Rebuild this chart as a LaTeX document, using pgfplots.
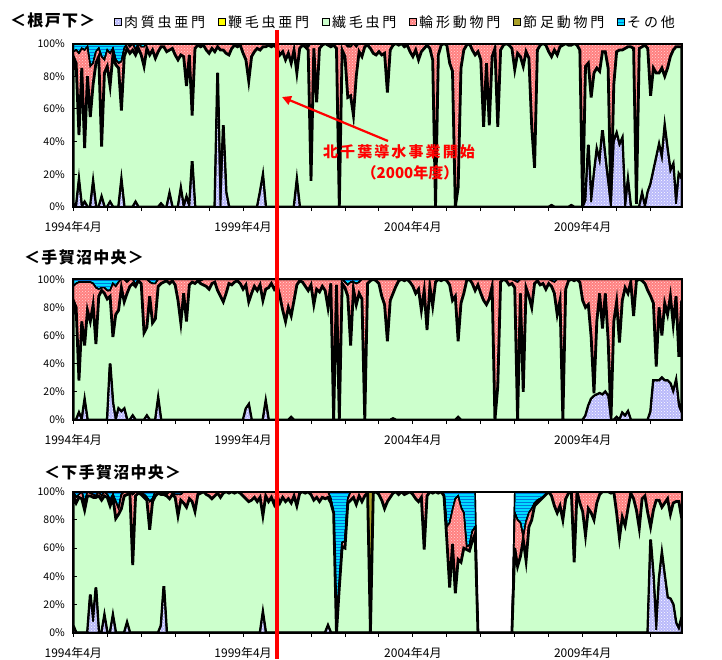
\documentclass[border=0pt]{standalone}
\usepackage{fontspec}
\setmainfont{Noto Sans CJK JP}
\usepackage{pgfplots}
\usepackage{pgfplotstable}
\pgfplotsset{compat=1.18}
\usetikzlibrary{patterns,arrows.meta}

\definecolor{cRhi}{RGB}{185,185,250}
\definecolor{cFla}{RGB}{255,255,0}
\definecolor{cCil}{RGB}{204,255,204}
\definecolor{cRot}{RGB}{255,128,128}
\definecolor{cArt}{RGB}{170,160,40}
\definecolor{cOth}{RGB}{0,220,255}
\definecolor{cOthL}{RGB}{0,120,220}

\pgfplotstableread{
A B C D E F
2 0 90 3 0 5
0 0 88 8 0 4
16 0 28 50 0 6
0 0 85 12 0 3
3 0 33 60 0 4
0 0 80 18 0 2
0 0 55 31 0 14
15 0 60 13 0 12
0 0 88 7 0 5
0 0 92 5 0 3
6 0 31 55 0 8
0 0 82 8 0 10
0 0 86 10 0 4
3 0 71 20 0 6
0 0 93 4 0 3
0 0 87 3 0 10
0 0 85 3 0 12
16 0 43 30 0 11
0 0 92 5 0 3
0 0 97 3 0 0
0 0 94 4 0 2
0 0 96 4 0 0
3 0 90 3 0 4
0 0 97 3 0 0
0 0 93 5 0 2
0 0 86 12 0 2
0 0 97 3 0 0
0 0 93 7 0 0
0 0 96 4 0 0
0 0 91 9 0 0
0 0 95 5 0 0
2 0 96 2 0 0
0 0 98 2 0 0
0 0 95 5 0 0
8 0 88 4 0 0
0 0 97 3 0 0
0 0 93 7 0 0
0 0 90 10 0 0
11 0 82 7 0 0
0 0 92 8 0 0
6 0 68 26 0 0
0 0 93 7 0 0
28 0 28 44 0 0
0 0 97 3 0 0
0 0 99 1 0 0
0 0 98 2 0 0
0 0 99 1 0 0
0 0 96 4 0 0
0 0 94 6 0 0
0 0 97 3 0 0
0 0 95 5 0 0
82 0 16 2 0 0
0 0 96 4 0 0
50 0 46 4 0 0
9 0 85 6 0 0
0 0 93 7 0 0
0 0 97 3 0 0
0 0 99 1 0 0
0 0 98 2 0 0
0 0 99 1 0 0
0 0 94 6 0 0
0 0 90 10 0 0
0 0 77 23 0 0
0 0 92 8 0 0
0 0 95 5 0 0
0 0 97 3 0 0
9 0 87 4 0 0
19 0 79 2 0 0
0 0 98 2 0 0
0 0 99 1 0 0
0 0 98 2 0 0
0 0 99 1 0 0
0 0 97 3 0 0
0 0 93 7 0 0
0 0 95 5 0 0
0 0 90 10 0 0
0 0 94 6 0 0
0 0 88 12 0 0
0 0 96 4 0 0
16 0 66 18 0 0
0 0 97 3 0 0
0 0 99 1 0 0
0 0 98 2 0 0
0 0 96 2 0 2
0 0 16 84 0 0
0 0 97 3 0 0
0 0 64 36 0 0
0 0 97 3 0 0
0 0 99 1 0 0
0 0 100 0 0 0
0 0 99 1 0 0
0 0 98 2 0 0
0 0 99 1 0 0
0 0 97 3 0 0
0 0 0 100 0 0
0 0 96 4 0 0
0 0 92 8 0 0
0 0 67 31 0 2
0 0 68 30 2 0
0 0 56 44 0 0
0 0 80 18 0 2
0 0 95 5 0 0
0 0 92 8 0 0
0 0 98 2 0 0
0 0 99 1 0 0
0 0 97 3 0 0
0 0 94 6 0 0
0 0 93 7 0 0
0 0 95 5 0 0
0 0 93 7 0 0
0 0 94 6 0 0
0 0 70 30 0 0
0 0 96 4 0 0
0 0 99 1 0 0
0 0 100 0 0 0
0 0 99 1 0 0
0 0 100 0 0 0
0 0 98 2 0 0
0 0 99 1 0 0
0 0 95 5 0 0
0 0 92 8 0 0
0 0 96 4 0 0
0 0 90 10 0 0
0 0 95 5 0 0
0 0 97 3 0 0
0 0 99 1 0 0
0 0 97 3 0 0
0 0 90 10 0 0
0 0 0 100 0 0
0 0 93 7 0 0
0 0 99 1 0 0
0 0 100 0 0 0
0 0 99 1 0 0
0 0 88 12 0 0
0 0 83 17 0 0
0 0 0 100 0 0
0 0 12 88 0 0
0 0 85 15 0 0
0 0 96 4 0 0
0 0 99 1 0 0
0 0 100 0 0 0
0 0 96 4 0 0
0 0 93 7 0 0
0 0 95 5 0 0
0 0 90 10 0 0
0 0 49 51 0 0
0 0 88 12 0 0
0 0 50 50 0 0
0 0 92 8 0 0
0 0 97 3 0 0
0 0 49 51 0 0
0 0 96 4 0 0
0 0 99 1 0 0
0 0 100 0 0 0
0 0 99 1 0 0
0 0 97 3 0 0
0 0 84 16 0 0
0 0 94 6 0 0
0 0 92 8 0 0
0 0 86 14 0 0
0 0 95 5 0 0
0 0 91 9 0 0
0 0 49 51 0 0
0 0 24 76 0 0
0 0 96 4 0 0
0 0 99 1 0 0
0 0 100 0 0 0
0 0 99 1 0 0
0 0 95 5 0 0
1 0 91 8 0 0
0 0 96 4 0 0
0 0 93 7 0 0
0 0 98 2 0 0
0 0 99 1 0 0
0 0 100 0 0 0
0 0 99 1 0 0
1 0 98 1 0 0
0 0 100 0 0 0
0 0 99 1 0 0
0 0 96 4 0 0
0 0 0 100 0 0
4 0 82 14 0 0
38 0 50 12 0 0
3 0 64 33 0 0
20 0 62 18 0 0
35 0 50 15 0 0
28 0 55 17 0 0
47 0 48 5 0 0
30 0 65 5 0 0
15 0 70 15 0 0
0 0 0 100 0 0
40 0 35 25 0 0
45 0 50 5 0 0
38 0 58 4 0 0
42 0 54 4 0 0
0 0 97 3 0 0
16 0 82 2 0 0
0 0 98 2 0 0
0 0 97 3 0 0
0 0 2 98 0 0
0 0 97 3 0 0
8 0 90 2 0 0
0 0 99 1 0 0
9 0 88 3 0 0
14 0 54 32 0 0
22 0 63 15 0 0
30 0 52 18 0 0
38 0 44 18 0 0
30 0 55 15 0 0
49 0 31 20 0 0
35 0 50 15 0 0
22 0 70 8 0 0
26 0 70 4 0 0
2 0 96 2 0 0
20 0 78 2 0 0
17 0 81 2 0 0
}\dataone

\pgfplotstableread{
A B C D E F
0 0 85 10 0 5
0 0 80 17 0 3
5 0 23 70 0 2
0 0 70 28 0 2
14 0 39 45 0 2
0 0 78 20 0 2
0 0 70 28 0 2
0 0 82 15 0 3
0 0 54 40 0 6
0 0 88 5 0 7
0 0 92 2 0 6
0 0 90 4 0 6
0 0 86 6 0 8
40 0 48 4 0 8
12 0 47 38 0 3
0 0 75 20 0 5
8 0 70 20 0 2
6 0 88 6 0 0
8 0 76 16 0 0
0 0 90 8 0 2
0 0 95 5 0 0
3 0 94 3 0 0
0 0 95 1 0 4
0 0 99 1 0 0
0 0 97 3 0 0
0 0 62 38 0 0
3 0 63 34 0 0
0 0 88 10 0 2
0 0 69 28 0 3
0 0 72 25 0 3
15 0 80 5 0 0
0 0 97 3 0 0
0 0 98 2 0 0
0 0 99 1 0 0
0 0 97 3 0 0
0 0 99 1 0 0
0 0 96 4 0 0
0 0 85 15 0 0
0 0 69 31 0 0
0 0 90 10 0 0
0 0 70 30 0 0
0 0 96 4 0 0
0 0 98 2 0 0
0 0 97 3 0 0
0 0 99 1 0 0
0 0 97 2 0 1
0 0 96 4 0 0
0 0 95 5 0 0
0 0 93 7 0 0
0 0 97 3 0 0
0 0 98 2 0 0
0 0 92 8 0 0
0 0 88 12 0 0
0 0 84 16 0 0
0 0 90 10 0 0
0 0 97 3 0 0
0 0 96 4 0 0
0 0 98 2 0 0
0 0 99 1 0 0
0 0 97 3 0 0
0 0 93 7 0 0
8 0 88 4 0 0
11 0 73 16 0 0
0 0 90 10 0 0
0 0 95 5 0 0
0 0 92 8 0 0
0 0 96 4 0 0
0 0 85 15 0 0
13 0 80 7 0 0
0 0 94 6 0 0
0 0 97 3 0 0
0 0 93 7 0 0
0 0 96 4 0 0
0 0 88 12 0 0
0 0 78 22 0 0
0 0 70 30 0 0
0 0 80 20 0 0
2 0 72 26 0 0
0 0 85 15 0 0
0 0 96 4 0 0
0 0 99 1 0 0
0 0 98 2 0 0
0 0 95 5 0 0
0 0 92 8 0 0
0 0 96 4 0 0
0 0 82 18 0 0
0 0 93 7 0 0
0 0 91 9 0 0
0 0 95 5 0 0
0 0 92 8 0 0
0 0 80 20 0 0
0 0 97 3 0 0
0 0 0 100 0 0
0 0 96 4 0 0
0 0 0 100 0 0
0 0 97 3 0 0
0 0 94 4 0 2
0 0 88 8 0 4
0 0 53 45 0 2
0 0 93 5 0 2
0 0 82 15 0 3
0 0 90 8 0 2
0 0 86 14 0 0
0 0 0 100 0 0
0 0 97 3 0 0
0 0 99 1 0 0
0 0 100 0 0 0
0 0 99 1 0 0
0 0 97 3 0 0
0 0 88 12 0 0
0 0 82 18 0 0
0 0 56 44 0 0
0 0 85 15 0 0
1 0 89 10 0 0
0 0 95 5 0 0
0 0 99 1 0 0
0 0 100 0 0 0
0 0 99 1 0 0
0 0 100 0 0 0
0 0 98 2 0 0
0 0 95 5 0 0
0 0 90 10 0 0
0 0 93 7 0 0
0 0 78 22 0 0
0 0 92 8 0 0
0 0 64 36 0 0
0 0 95 5 0 0
0 0 81 19 0 0
0 0 98 2 0 0
0 0 100 0 0 0
0 0 99 1 0 0
0 0 100 0 0 0
0 0 99 1 0 0
0 0 96 4 0 0
0 0 85 15 0 0
0 0 88 12 0 0
2 0 54 44 0 0
0 0 83 17 0 0
0 0 90 10 0 0
0 0 99 1 0 0
0 0 100 0 0 0
0 0 97 3 0 0
0 0 92 8 0 0
0 0 96 4 0 0
0 0 90 10 0 0
0 0 85 15 0 0
0 0 82 18 0 0
0 0 86 14 0 0
0 0 95 5 0 0
0 0 0 100 0 0
0 0 24 76 0 0
0 0 98 2 0 0
0 0 100 0 0 0
0 0 99 1 0 0
0 0 96 4 0 0
0 0 97 3 0 0
0 0 94 5 0 1
0 0 0 98 0 2
0 0 90 10 0 0
0 0 20 80 0 0
0 0 94 6 0 0
0 0 88 12 0 0
0 0 80 20 0 0
0 0 97 3 0 0
0 0 99 1 0 0
0 0 96 4 0 0
0 0 97 3 0 0
0 0 93 7 0 0
0 0 97 3 0 0
0 0 95 4 0 1
0 0 90 8 0 2
0 0 75 25 0 0
0 0 85 15 0 0
0 0 0 100 0 0
0 0 93 7 0 0
0 0 99 1 0 0
0 0 100 0 0 0
0 0 99 1 0 0
0 0 100 0 0 0
0 0 98 2 0 0
0 0 85 15 0 0
3 0 77 20 0 0
10 0 72 18 0 0
15 0 44 41 0 0
17 0 2 81 0 0
18 0 52 30 0 0
19 0 71 10 0 0
18 0 47 35 0 0
20 0 70 10 0 0
17 0 40 43 0 0
0 0 0 100 0 0
0 0 70 30 0 0
2 0 82 16 0 0
0 0 55 45 0 0
5 0 80 15 0 0
3 0 91 6 0 0
6 0 84 10 0 0
0 0 98 2 0 0
0 0 74 26 0 0
0 0 99 1 0 0
0 0 100 0 0 0
0 0 99 1 0 0
0 0 97 3 0 0
0 0 92 8 0 0
6 0 82 12 0 0
28 0 55 17 0 0
28 0 10 62 0 0
28 0 52 20 0 0
30 0 30 40 0 0
28 0 55 17 0 0
28 0 47 25 0 0
26 0 62 12 0 0
20 0 48 32 0 0
28 0 60 12 0 0
10 0 35 55 0 0
5 0 80 15 0 0
}\datatwo

\pgfplotstableread{
A B C D E F
5 0 92 3 0 0
0 0 92 4 0 4
0 0 96 2 0 2
0 0 95 5 0 0
0 0 87 5 0 8
0 0 97 3 0 0
27 0 70 2 0 1
8 0 88 2 0 2
32 0 64 1 0 3
0 0 97 3 0 0
0 0 94 3 0 3
12 0 85 3 0 0
0 0 96 2 0 2
0 0 90 4 0 6
12 0 84 2 0 2
0 0 81 12 0 7
0 0 84 4 0 12
0 0 88 10 0 2
0 0 97 3 0 0
7 0 91 2 0 0
0 0 99 1 0 0
0 0 48 50 0 2
0 0 97 3 0 0
0 0 99 1 0 0
0 0 98 1 0 1
0 0 96 2 0 2
0 0 94 2 0 4
0 0 73 20 0 7
0 0 93 2 0 5
0 0 97 3 0 0
0 0 99 1 0 0
5 0 93 2 0 0
33 0 65 1 0 1
0 0 97 1 0 2
0 0 95 5 0 0
0 0 98 1 0 1
0 0 96 2 0 2
0 0 83 15 0 2
0 0 94 4 0 2
0 0 92 8 0 0
0 0 89 11 0 0
0 0 95 5 0 0
0 0 93 7 0 0
0 0 86 14 0 0
0 0 98 2 0 0
0 0 99 1 0 0
0 0 100 0 0 0
0 0 98 2 0 0
0 0 97 3 0 0
0 0 95 5 0 0
0 0 97 3 0 0
0 0 99 1 0 0
0 0 96 4 0 0
0 0 99 1 0 0
0 0 100 0 0 0
0 0 99 1 0 0
0 0 100 0 0 0
0 0 99 1 0 0
0 0 100 0 0 0
0 0 99 1 0 0
0 0 97 3 0 0
0 0 95 5 0 0
0 0 93 7 0 0
0 0 94 6 0 0
0 0 96 4 0 0
0 0 93 7 0 0
0 0 96 4 0 0
14 0 69 17 0 0
0 0 97 3 0 0
0 0 93 7 0 0
0 0 96 4 0 0
0 0 91 9 0 0
0 0 97 3 0 0
0 0 92 8 0 0
0 0 96 4 0 0
0 0 93 7 0 0
0 0 95 5 0 0
0 0 92 8 0 0
0 0 97 3 0 0
0 0 90 10 0 0
0 0 99 1 0 0
0 0 100 0 0 0
0 0 99 1 0 0
0 0 100 0 0 0
0 0 98 2 0 0
0 0 94 6 0 0
0 0 96 4 0 0
0 0 93 7 0 0
0 0 96 4 0 0
0 0 95 5 0 0
5 0 91 4 0 0
0 0 92 3 0 5
0 0 85 0 0 15
0 0 0 0 0 100
0 0 32 0 0 68
0 0 61 3 0 36
0 0 60 5 0 35
0 0 92 3 0 5
0 0 94 6 0 0
0 0 96 4 0 0
0 0 91 9 0 0
0 0 97 3 0 0
0 0 93 7 0 0
0 0 97 3 0 0
0 0 99 1 0 0
0 0 0 0 100 0
0 0 99 1 0 0
0 0 100 0 0 0
0 0 98 2 0 0
0 0 94 6 0 0
0 0 88 12 0 0
0 0 93 7 0 0
0 0 96 4 0 0
0 0 99 1 0 0
0 0 100 0 0 0
0 0 98 2 0 0
0 0 100 0 0 0
0 0 98 2 0 0
0 0 99 1 0 0
0 0 100 0 0 0
0 0 98 2 0 0
0 0 95 5 0 0
0 0 93 7 0 0
0 0 96 4 0 0
0 0 59 41 0 0
0 0 97 3 0 0
0 0 100 0 0 0
0 0 99 1 0 0
0 0 100 0 0 0
0 0 99 1 0 0
0 0 100 0 0 0
0 0 97 1 0 2
0 0 66 9 0 25
0 0 32 46 0 22
0 0 63 24 0 13
0 0 28 67 0 5
0 0 52 45 0 3
0 0 50 39 0 11
0 0 60 25 0 15
0 0 59 2 0 39
0 0 58 4 0 38
0 0 65 7 0 28
0 0 70 5 0 25
0 0 0 0 0 0
0 0 0 0 0 0
0 0 0 0 0 0
0 0 0 0 0 0
0 0 0 0 0 0
0 0 0 0 0 0
0 0 0 0 0 0
0 0 0 0 0 0
0 0 0 0 0 0
0 0 0 0 0 0
0 0 0 0 0 0
0 0 0 0 0 0
0 0 0 0 0 0
0 0 60 25 0 15
0 0 47 33 0 20
0 0 54 24 0 22
0 0 66 2 0 32
0 0 51 28 0 21
0 0 75 10 0 15
0 0 80 8 0 12
0 0 90 2 0 8
0 0 92 2 0 6
0 0 94 1 0 5
0 0 96 0 0 4
0 0 98 0 0 2
0 0 100 0 0 0
0 0 97 3 0 0
0 0 90 10 0 0
0 0 85 15 0 0
0 0 90 10 0 0
0 0 80 20 0 0
0 0 95 5 0 0
0 0 99 1 0 0
0 0 100 0 0 0
0 0 50 50 0 0
0 0 100 0 0 0
0 0 92 8 0 0
0 0 86 14 0 0
0 0 69 31 0 0
0 0 88 12 0 0
0 0 85 15 0 0
0 0 80 20 0 0
0 0 92 8 0 0
0 0 98 2 0 0
0 0 100 0 0 0
0 0 100 0 0 0
0 0 100 0 0 0
0 0 99 1 0 0
0 0 100 0 0 0
0 0 85 15 0 0
0 0 67 33 0 0
0 0 82 18 0 0
0 0 76 24 0 0
0 0 88 12 0 0
0 0 99 1 0 0
0 0 95 5 0 0
0 0 87 13 0 0
0 0 74 26 0 0
0 0 95 5 0 0
0 0 97 3 0 0
0 0 85 15 0 0
66 0 9 25 0 0
40 0 47 13 0 0
2 0 92 6 0 0
38 0 56 6 0 0
56 0 33 11 0 0
40 0 52 8 0 0
25 0 70 5 0 0
24 0 60 16 0 0
20 0 72 8 0 0
7 0 86 7 0 0
3 0 90 7 0 0
11 0 70 19 0 0
}\datathree

\pgfplotsset{
  panel/.style={
    scale only axis, width=608.4pt,
    xmin=0, xmax=215, ymin=0, ymax=100,
    stack plots=y, axis on top,
    axis line style={line width=2pt},
    xtick={0,60,120,180},
    xticklabels={1994年4月,1999年4月,2004年4月,2009年4月},
    minor xtick={12,24,36,48,72,84,96,108,132,144,156,168,192,204},
    ytick={0,20,40,60,80,100},
    yticklabels={0\%,20\%,40\%,60\%,80\%,100\%},
    tick align=outside,
    major tick length=4pt, minor tick length=4pt,
    tick style={black, line width=0.9pt},
    ytick style={xshift=4pt},
    xtick pos=bottom, ytick pos=left,
    x tick label style={font=\fontsize{12}{12}\selectfont, inner sep=1pt, yshift=-9pt},
    y tick label style={font=\fontsize{10.5}{10.5}\selectfont, xshift=-1pt},
    legend image code/.code={\draw[#1,draw=black,line width=0.8pt] (0pt,-3.5pt) rectangle (7pt,3.5pt);},
  },
  sA/.style={fill=cRhi, draw=black, line width=1.6pt, postaction={pattern=crosshatch dots, pattern color=white}},
  sB/.style={fill=cFla, draw=black, line width=1.4pt},
  sC/.style={fill=cCil, draw=black, line width=2.8pt},
  sD/.style={fill=cRot, draw=black, line width=1.4pt, postaction={pattern=crosshatch dots, pattern color=white!70!cRot}},
  sE/.style={fill=cArt, draw=black, line width=1.4pt},
  sF/.style={fill=cOth, draw=black, line width=1.4pt, postaction={pattern=horizontal lines, pattern color=cOthL}},
}

\begin{document}
\begin{tikzpicture}
\path[use as bounding box] (0,0) rectangle (722pt,-659pt);

% Panel 1
\begin{axis}[panel, height=163.5pt, at={(73.3pt,-207pt)}, anchor=south west,
  legend columns=6,
  legend style={at={(0.062,1.131)}, anchor=west, draw=none, fill=none,
    font=\fontsize{14}{14}\selectfont\addfontfeature{LetterSpace=20},
    /tikz/every even column/.append style={column sep=11pt}},
  legend cell align=left]
\addplot[sA] table[x expr=\coordindex, y=A]{\dataone} \closedcycle;
\addplot[sB] table[x expr=\coordindex, y=B]{\dataone} \closedcycle;
\addplot[sC] table[x expr=\coordindex, y=C]{\dataone} \closedcycle;
\addplot[sD] table[x expr=\coordindex, y=D]{\dataone} \closedcycle;
\addplot[sE] table[x expr=\coordindex, y=E]{\dataone} \closedcycle;
\addplot[sF] table[x expr=\coordindex, y=F]{\dataone} \closedcycle;
\legend{肉質虫亜門,鞭毛虫亜門,繊毛虫門,輪形動物門,節足動物門,その他}
\end{axis}

% Panel 2
\begin{axis}[panel, height=140.7pt, at={(73.3pt,-420pt)}, anchor=south west]
\addplot[sA] table[x expr=\coordindex, y=A]{\datatwo} \closedcycle;
\addplot[sB] table[x expr=\coordindex, y=B]{\datatwo} \closedcycle;
\addplot[sC] table[x expr=\coordindex, y=C]{\datatwo} \closedcycle;
\addplot[sD] table[x expr=\coordindex, y=D]{\datatwo} \closedcycle;
\addplot[sE] table[x expr=\coordindex, y=E]{\datatwo} \closedcycle;
\addplot[sF] table[x expr=\coordindex, y=F]{\datatwo} \closedcycle;
\end{axis}

% Panel 3
\begin{axis}[panel, height=141pt, at={(73.3pt,-632.7pt)}, anchor=south west]
\addplot[sA] table[x expr=\coordindex, y=A]{\datathree} \closedcycle;
\addplot[sB] table[x expr=\coordindex, y=B]{\datathree} \closedcycle;
\addplot[sC] table[x expr=\coordindex, y=C]{\datathree} \closedcycle;
\addplot[sD] table[x expr=\coordindex, y=D]{\datathree} \closedcycle;
\addplot[sE] table[x expr=\coordindex, y=E]{\datathree} \closedcycle;
\addplot[sF] table[x expr=\coordindex, y=F]{\datathree} \closedcycle;
\end{axis}

% titles
\node[anchor=west, inner sep=0pt, font=\bfseries\fontsize{16}{16}\selectfont\addfontfeature{LetterSpace=8}] at (10pt,-20pt) {＜根戸下＞};
\node[anchor=west, inner sep=0pt, font=\bfseries\fontsize{16}{16}\selectfont\addfontfeature{LetterSpace=8}] at (24pt,-257pt) {＜手賀沼中央＞};
\node[anchor=west, inner sep=0pt, font=\bfseries\fontsize{16}{16}\selectfont\addfontfeature{LetterSpace=8}] at (44pt,-472pt) {＜下手賀沼中央＞};

% annotation
\draw[red, line width=3.5pt] (277pt,-30pt) -- (277pt,-659pt);
\draw[red, line width=2.2pt, -{Triangle[length=9pt,width=9pt]}] (388pt,-141pt) -- (282pt,-97pt);
\node[text=red, font=\bfseries\fontsize{15}{15}\selectfont\addfontfeature{LetterSpace=14}] at (399pt,-152pt) {北千葉導水事業開始};
\node[text=red, font=\bfseries\fontsize{15}{15}\selectfont] at (410pt,-173pt) {（2000年度）};
\end{tikzpicture}
\end{document}
